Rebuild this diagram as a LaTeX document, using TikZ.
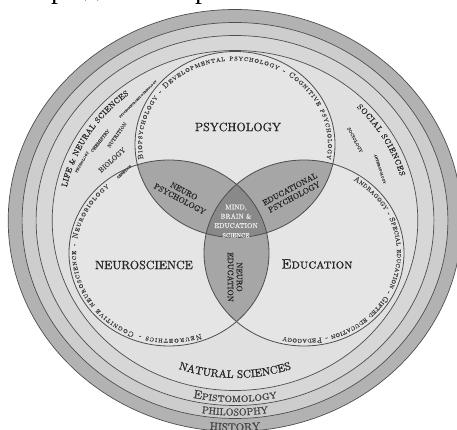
\documentclass[tikz,border=0pt]{standalone}
\usepackage{fontspec}
\setmainfont{lmroman10-regular.otf}[FakeBold=1, SmallCapsFont=lmromancaps10-regular.otf, SmallCapsFeatures={FakeBold=1}]
\newfontfamily\cyr{Liberation Serif}
\usetikzlibrary{decorations.text}
\definecolor{histc}{HTML}{B2B2B2}
\definecolor{philc}{HTML}{CDCDCD}
\definecolor{epic}{HTML}{D7D7D7}
\definecolor{natc}{HTML}{E0E0E0}
\definecolor{vennc}{HTML}{E5E5E5}
\definecolor{lensc}{HTML}{A6A6A6}
\definecolor{tripc}{HTML}{898989}
\definecolor{linec}{HTML}{4E4E4E}
\definecolor{txtc}{HTML}{262626}
\definecolor{subc}{HTML}{444444}
\begin{document}
\begin{tikzpicture}[x=1pt,y=1pt,
  ring/.style={draw=linec, line width=0.7pt},
  venn/.style={draw=linec, line width=0.8pt},
  biglabel/.style={text=txtc, inner sep=0pt},
  lenslabel/.style={text=txtc, align=center, inner sep=0pt, font=\fontsize{8}{9}\selectfont},
  tinylabel/.style={text=subc, inner sep=0pt},
]
\useasboundingbox (0,0) rectangle (457,430);
% ---- rings
\coordinate (O) at (235,209.5);
\filldraw[fill=histc, ring] (O) ellipse [x radius=226.8pt, y radius=211pt];
\filldraw[fill=philc, ring] (O) ellipse [x radius=212.9pt, y radius=198pt];
\filldraw[fill=epic, ring] (O) ellipse [x radius=198.9pt, y radius=185pt];
\filldraw[fill=natc, ring] (O) ellipse [x radius=182.8pt, y radius=170pt];
% ---- venn
\coordinate (P) at (235,285.5);
\coordinate (N) at (169,177);
\coordinate (E) at (304,177);
\fill[vennc] (P) ellipse [x radius=100pt, y radius=93pt];
\fill[vennc] (N) ellipse [x radius=100pt, y radius=93pt];
\fill[vennc] (E) ellipse [x radius=100pt, y radius=93pt];
\begin{scope}
  \clip (P) ellipse [x radius=100pt, y radius=93pt];
  \fill[lensc] (N) ellipse [x radius=100pt, y radius=93pt];
  \fill[lensc] (E) ellipse [x radius=100pt, y radius=93pt];
\end{scope}
\begin{scope}
  \clip (N) ellipse [x radius=100pt, y radius=93pt];
  \fill[lensc] (E) ellipse [x radius=100pt, y radius=93pt];
\end{scope}
\begin{scope}
  \clip (P) ellipse [x radius=100pt, y radius=93pt];
  \clip (N) ellipse [x radius=100pt, y radius=93pt];
  \fill[tripc] (E) ellipse [x radius=100pt, y radius=93pt];
\end{scope}
\draw[venn] (P) ellipse [x radius=100pt, y radius=93pt];
\draw[venn] (N) ellipse [x radius=100pt, y radius=93pt];
\draw[venn] (E) ellipse [x radius=100pt, y radius=93pt];
% ---- main labels
\node[biglabel, font=\fontsize{12}{12}\selectfont] (psy) at (238,303) {PSYCHOLOGY};
\node[biglabel, font=\fontsize{12}{12}\selectfont] (neu) at (144,165) {NEUROSCIENCE};
\node[biglabel, font=\fontsize{13.5}{13.5}\selectfont\scshape] (edu) at (317,166) {Education};
% ---- lens labels
\node[lenslabel, rotate=-28] (np) at (182,235) {NEURO\\PSYCHOLOGY};
\node[lenslabel, rotate=28] (ep) at (292,237) {EDUCATIONAL\\PSYCHOLOGY};
\node[lenslabel, rotate=-90] (ne) at (235,153) {NEURO\\EDUCATION};
\node[text=white!92!black, align=center, inner sep=0pt, font=\fontsize{7}{9.3}\selectfont] (mbe) at (236,209)
  {MIND,\\BRAIN \&\\EDUCATION\\{\fontsize{6}{9.3}\selectfont SCIENCE}};
% ---- arc texts on venn circles
\path[decorate, decoration={text along path, text align=fit to path, text color=subc,
  text={|\fontsize{7.5}{7.5}\selectfont\scshape|Biopsychology - Developmental psychology - Cognitive psychology}}]
  ([shift={(190:93pt and 84pt)}]P) arc[start angle=190, end angle=-10, x radius=93pt, y radius=84pt];
\path[decorate, decoration={text along path, text align=fit to path, text color=subc,
  text={|\fontsize{7.5}{7.5}\selectfont\scshape|Neuroethics - Cognitive neuroscience - Neurobiology}}]
  ([shift={(-70:93pt and 86pt)}]N) arc[start angle=-70, end angle=-230, x radius=93pt, y radius=86pt];
\path[decorate, decoration={text along path, text align=fit to path, text color=subc,
  text={|\fontsize{7.5}{7.5}\selectfont\scshape|Andragogy - Special education - Gifted education - Pedagogy}}]
  ([shift={(58:93pt and 86pt)}]E) arc[start angle=58, end angle=-103, x radius=93pt, y radius=86pt];
% ---- natural sciences region
\path[decorate, decoration={text along path, text align=fit to path, text color=txtc,
  text={|\fontsize{8}{8}\selectfont|LIFE {\&} NEURAL SCIENCES}}]
  ([shift={(168:172pt and 160pt)}]O) arc[start angle=168, end angle=128, x radius=172pt, y radius=160pt];
\path[decorate, decoration={text along path, text align=fit to path, text color=txtc,
  text={|\fontsize{8}{8}\selectfont|SOCIAL SCIENCES}}]
  ([shift={(45:172pt and 160pt)}]O) arc[start angle=45, end angle=16, x radius=172pt, y radius=160pt];
\node[tinylabel, rotate=42, font=\fontsize{7}{7}\selectfont] (bio) at (112,270) {BIOLOGY};
\node[tinylabel, rotate=55, font=\fontsize{5}{5}\selectfont] (nut) at (117,295) {NUTRITION};
\node[tinylabel, rotate=52, font=\fontsize{4.5}{4.5}\selectfont] (che) at (100,289) {CHEMISTRY};
\node[tinylabel, rotate=60, font=\fontsize{3.5}{3.5}\selectfont] (phy) at (82,268) {PHYSIOLOGY};
\node[tinylabel, rotate=42, font=\fontsize{3.5}{3.5}\selectfont] (gen) at (124,258) {GENETICS};
\node[tinylabel, rotate=45, font=\fontsize{3}{3}\selectfont] (pne) at (138,331) {PSYCHONEUROENDOCRINOLOGY};
\node[tinylabel, rotate=-62, font=\fontsize{4.5}{4.5}\selectfont] (soc) at (355,290) {SOCIOLOGY};
\node[tinylabel, rotate=-72, font=\fontsize{3.5}{3.5}\selectfont] (ant) at (380,261) {ANTHROPOLOGY};
\path[decorate, decoration={text along path, text align=center, text color=txtc,
  text={|\fontsize{11}{11}\selectfont|NATURAL SCIENCES}}]
  ([shift={(-125:169pt and 157.5pt)}]O) arc[start angle=-125, end angle=-55, x radius=169pt, y radius=157.5pt];
% ---- outer rings labels
\path[decorate, decoration={text along path, text align=center, text color=subc,
  text={|\fontsize{12}{12}\selectfont\scshape|Epistomology}}]
  ([shift={(-125:195pt and 181.5pt)}]O) arc[start angle=-125, end angle=-55, x radius=195pt, y radius=181.5pt];
\path[decorate, decoration={text along path, text align=center, text color=subc,
  text={|\fontsize{10}{10}\selectfont|PHILOSOPHY}}]
  ([shift={(-125:209.6pt and 195pt)}]O) arc[start angle=-125, end angle=-55, x radius=209.6pt, y radius=195pt];
\path[decorate, decoration={text along path, text align=center, text color=subc,
  text={|\fontsize{11}{11}\selectfont|HISTORY}}]
  ([shift={(-120:224pt and 210.5pt)}]O) arc[start angle=-120, end angle=-60, x radius=224pt, y radius=210.5pt];
% ---- cropped text line at top
\node[anchor=base, inner sep=0pt, font=\cyr\fontsize{28}{28}\selectfont] (c1) at (58,431) {р};
\node[anchor=base, inner sep=0pt, font=\cyr\fontsize{28}{28}\selectfont] (c2) at (92,434) {д};
\node[anchor=base, inner sep=0pt, font=\cyr\fontsize{28}{28}\selectfont] (c3) at (202,431) {р};
\end{tikzpicture}
\end{document}
